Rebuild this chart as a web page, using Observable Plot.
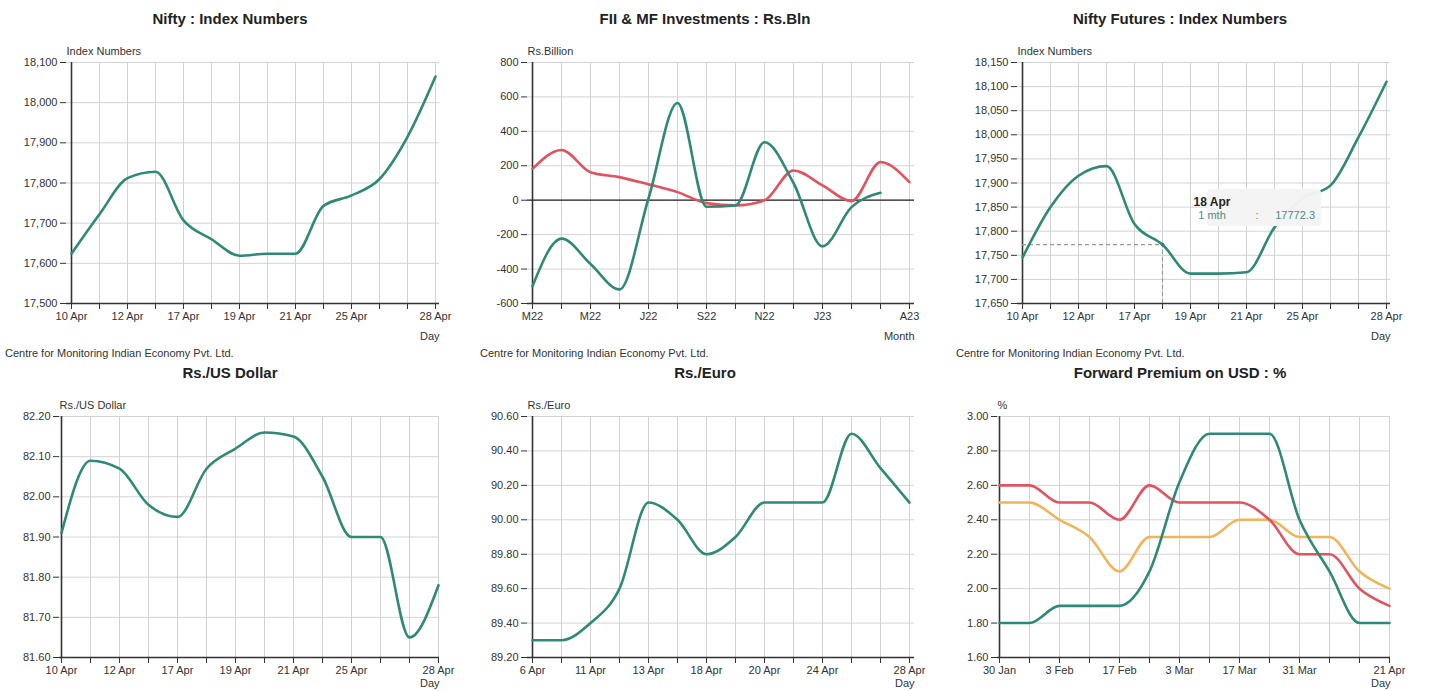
<!DOCTYPE html>
<html>
<head>
<meta charset="utf-8">
<script src="https://cdn.jsdelivr.net/npm/d3@7"></script>
<script src="https://cdn.jsdelivr.net/npm/@observablehq/plot@0.6"></script>
<style>
  body { margin: 0; background: #fff; font-family: Arial, "Liberation Sans", sans-serif; }
  #root { position: relative; width: 1449px; height: 691px; overflow: hidden; background: #fff; }
  .title { position: absolute; width: 460px; text-align: center; font-weight: bold; font-size: 15px; line-height: 18px; color: #222; }
  .src { position: absolute; font-size: 11px; line-height: 14px; color: #333; white-space: nowrap; }
  .panel { position: absolute; }
  .panel svg { overflow: visible; }
</style>
</head>
<body>
<div id="root"></div>
<script>
// ---------- DATA ----------
const aprDays = ["10 Apr","11 Apr","12 Apr","13 Apr","17 Apr","18 Apr","19 Apr","20 Apr","21 Apr","24 Apr","25 Apr","26 Apr","27 Apr","28 Apr"];
const aprDayTicks = ["10 Apr","","12 Apr","","17 Apr","","19 Apr","","21 Apr","","25 Apr","","","28 Apr"];

const niftyValues = [17624, 17722, 17812, 17828, 17707, 17660, 17619, 17624, 17624, 17743, 17769, 17810, 17915, 18065];

const fiiMonths = ["Mar22","Apr22","May22","Jun22","Jul22","Aug22","Sep22","Oct22","Nov22","Dec22","Jan23","Feb23","Mar23","Apr23"];
const fiiMonthTicks = ["M22","","M22","","J22","","S22","","N22","","J23","","","A23"];
const fiiValues = [-500, -223, -370, -518, 10, 565, -38, -30, 337, 100, -268, -40, 43, null];
const mfValues  = [182, 292, 163, 134, 92, 47, -17, -30, -1, 173, 86, -5, 221, 105];

const futuresValues = [17745, 17850, 17915, 17935, 17815, 17772.3, 17712, 17712, 17715, 17808, 17868, 17895, 17995, 18110];
const tipDate = "18 Apr";
const tipSeries = "1 mth";
const tipValue = 17772.3;

const usdValues = [81.91, 82.09, 82.07, 81.98, 81.95, 82.07, 82.12, 82.16, 82.15, 82.05, 81.90, 81.90, 81.65, 81.78];

const euroDays = ["6 Apr","10 Apr","11 Apr","12 Apr","13 Apr","17 Apr","18 Apr","19 Apr","20 Apr","21 Apr","24 Apr","25 Apr","26 Apr","28 Apr"];
const euroDayTicks = ["6 Apr","","11 Apr","","13 Apr","","18 Apr","","20 Apr","","24 Apr","","","28 Apr"];
const euroValues = [89.30, 89.30, 89.40, 89.60, 90.10, 90.00, 89.80, 89.90, 90.10, 90.10, 90.10, 90.50, 90.30, 90.10];

const fwdDays = ["30 Jan","27 Jan b","3 Feb","10 Feb","17 Feb","24 Feb","3 Mar","10 Mar","17 Mar","24 Mar","31 Mar","7 Apr","14 Apr","21 Apr"];
const fwdDayTicks = ["30 Jan","","3 Feb","","17 Feb","","3 Mar","","17 Mar","","31 Mar","","","21 Apr"];
const fwd1m = [1.80, 1.80, 1.90, 1.90, 1.90, 2.10, 2.62, 2.90, 2.90, 2.90, 2.40, 2.10, 1.80, 1.80];
const fwd3m = [2.60, 2.60, 2.50, 2.50, 2.40, 2.60, 2.50, 2.50, 2.50, 2.40, 2.20, 2.20, 2.00, 1.90];
const fwd6m = [2.50, 2.50, 2.40, 2.30, 2.10, 2.30, 2.30, 2.30, 2.40, 2.40, 2.30, 2.30, 2.10, 2.00];

// ---------- STYLE ----------
const TEAL = "#2e8a76", RED = "#e0535f", ORANGE = "#f0b45a";
const FONT = "Arial, 'Liberation Sans', sans-serif";
const root = document.getElementById("root");

function addDiv(cls, text, left, top) {
  const d = document.createElement("div");
  d.className = cls; d.textContent = text;
  d.style.left = left + "px"; d.style.top = top + "px";
  root.appendChild(d);
}

function panel(cfg) {
  const { cats, ticks, series, yDomain, yTicks, yFormat, yLabel, xLabel,
          left, top, width, height, mL, mR, mT, mB, zero, extra, xLabelDy = 33 } = cfg;
  const tickMap = new Map(cats.map((c, i) => [c, ticks[i]]));
  const lines = series.map(s => {
    const data = [];
    s.values.forEach((v, i) => { if (v != null) data.push({ x: cats[i], y: v }); });
    return Plot.line(data, { x: "x", y: "y", stroke: s.color, strokeWidth: 2.6, curve: "monotone-x" });
  });
  const plot = Plot.plot({
    width, height,
    marginLeft: mL, marginRight: mR, marginTop: mT, marginBottom: mB,
    style: { fontFamily: FONT, fontSize: "11px", color: "#333", background: "transparent", overflow: "visible" },
    x: { type: "point", domain: cats, padding: 0, axis: null },
    y: { domain: yDomain, axis: null },
    marks: [
      Plot.gridX(cats, { stroke: "#d3d3d3", strokeOpacity: 1 }),
      Plot.gridY(yTicks, { stroke: "#d3d3d3", strokeOpacity: 1 }),
      zero ? Plot.ruleY([0], { stroke: "#222", strokeWidth: 1.2 }) : null,
      Plot.axisY(yTicks, { tickSize: 6, tickPadding: 3, tickFormat: yFormat, color: "#333", fontSize: 11, label: null }),
      Plot.axisX(cats, { tickSize: 6, tickPadding: 3, tickFormat: d => tickMap.get(d), color: "#333", fontSize: 11, label: null }),
      Plot.ruleX([cats[0]], { stroke: "#333", strokeWidth: 1.6 }),
      Plot.ruleY([yDomain[0]], { stroke: "#333", strokeWidth: 1.6 }),
      ...(extra ? extra.pre : []),
      ...lines,
      ...(extra ? extra.post : []),
      Plot.text([yLabel], { text: d => d, frameAnchor: "top-left", textAnchor: "start", lineAnchor: "middle", dy: -11, fill: "#333", fontSize: 11 }),
      Plot.text([xLabel], { text: d => d, frameAnchor: "bottom-right", textAnchor: "end", lineAnchor: "middle", dy: xLabelDy, fill: "#333", fontSize: 11 })
    ]
  });
  const holder = document.createElement("div");
  holder.className = "panel";
  holder.style.left = left + "px"; holder.style.top = top + "px";
  holder.appendChild(plot);
  root.appendChild(holder);
}

const comma = d3.format(",");
const f2 = d3.format(".2f");

// Titles & sources
addDiv("title", "Nifty : Index Numbers", 0, 10);
addDiv("title", "FII & MF Investments : Rs.Bln", 475, 10);
addDiv("title", "Nifty Futures : Index Numbers", 950, 10);
addDiv("src", "Centre for Monitoring Indian Economy Pvt. Ltd.", 5, 346);
addDiv("src", "Centre for Monitoring Indian Economy Pvt. Ltd.", 480, 346);
addDiv("src", "Centre for Monitoring Indian Economy Pvt. Ltd.", 956, 346);
addDiv("title", "Rs./US Dollar", 0, 364);
addDiv("title", "Rs./Euro", 475, 364);
addDiv("title", "Forward Premium on USD : %", 950, 364);

// Panel 1
panel({ cats: aprDays, ticks: aprDayTicks, series: [{ values: niftyValues, color: TEAL }],
  yDomain: [17500, 18100], yTicks: d3.range(17500, 18101, 100), yFormat: comma,
  yLabel: "Index Numbers", xLabel: "Day",
  left: 0, top: 40, width: 475, height: 305, mL: 66, mR: 36, mT: 22, mB: 42 });

// Panel 2
panel({ cats: fiiMonths, ticks: fiiMonthTicks,
  series: [{ values: mfValues, color: RED }, { values: fiiValues, color: TEAL }],
  yDomain: [-600, 800], yTicks: d3.range(-600, 801, 200), yFormat: d => String(d),
  yLabel: "Rs.Billion", xLabel: "Month", zero: true,
  left: 475, top: 40, width: 475, height: 305, mL: 52, mR: 36, mT: 22, mB: 42 });

// Panel 3 with tooltip
const tipMarks = {
  pre: [
    Plot.ruleY([tipValue], { y: d => d, x1: () => aprDays[0], x2: () => tipDate, stroke: "#999", strokeDasharray: "4,3", strokeWidth: 1.2 }),
    Plot.ruleX([tipDate], { x: d => d, y1: () => 17650, y2: () => tipValue, stroke: "#999", strokeDasharray: "4,3", strokeWidth: 1.2 })
  ],
  post: [
    Plot.dot([tipValue], { x: () => tipDate, y: d => d, r: 1.8, fill: "#3a6fc0" }),
    (index, scales) => {
      const px = scales.x(tipDate), py = scales.y(tipValue);
      const g = d3.create("svg:g").attr("font-family", FONT);
      g.append("rect").attr("x", px + 45).attr("y", py - 55).attr("width", 114).attr("height", 37)
        .attr("rx", 4).attr("fill", "#f4f4f4").attr("fill-opacity", 0.97);
      g.append("text").attr("x", px + 50).attr("y", py - 38).attr("font-size", 12).attr("font-weight", "bold")
        .attr("fill", "#222").text(tipDate);
      g.append("text").attr("x", px + 50).attr("y", py - 25).attr("font-size", 11).attr("fill", "#4c8d80")
        .text(tipSeries);
      g.append("text").attr("x", px + 95).attr("y", py - 25).attr("font-size", 11).attr("fill", "#4c8d80").text(":");
      g.append("text").attr("x", px + 153).attr("y", py - 25).attr("font-size", 11).attr("text-anchor", "end")
        .attr("fill", "#4c8d80").text(String(tipValue));
      return g.node();
    }
  ]
};
panel({ cats: aprDays, ticks: aprDayTicks, series: [{ values: futuresValues, color: TEAL }],
  yDomain: [17650, 18150], yTicks: d3.range(17650, 18151, 50), yFormat: comma,
  yLabel: "Index Numbers", xLabel: "Day", extra: tipMarks,
  left: 950, top: 40, width: 475, height: 305, mL: 67, mR: 35, mT: 22, mB: 42 });

// Panel 4
panel({ cats: aprDays, ticks: aprDayTicks, series: [{ values: usdValues, color: TEAL }],
  yDomain: [81.6, 82.2], yTicks: [81.6, 81.7, 81.8, 81.9, 82.0, 82.1, 82.2], yFormat: f2,
  yLabel: "Rs./US Dollar", xLabel: "Day", xLabelDy: 26,
  left: 0, top: 395, width: 475, height: 296, mL: 59, mR: 36, mT: 21, mB: 34 });

// Panel 5
panel({ cats: euroDays, ticks: euroDayTicks, series: [{ values: euroValues, color: TEAL }],
  yDomain: [89.2, 90.6], yTicks: [89.2, 89.4, 89.6, 89.8, 90.0, 90.2, 90.4, 90.6], yFormat: f2,
  yLabel: "Rs./Euro", xLabel: "Day", xLabelDy: 26,
  left: 475, top: 395, width: 475, height: 296, mL: 52, mR: 36, mT: 21, mB: 34 });

// Panel 6
panel({ cats: fwdDays, ticks: fwdDayTicks,
  series: [{ values: fwd6m, color: ORANGE }, { values: fwd3m, color: RED }, { values: fwd1m, color: TEAL }],
  yDomain: [1.6, 3.0], yTicks: [1.6, 1.8, 2.0, 2.2, 2.4, 2.6, 2.8, 3.0], yFormat: f2,
  yLabel: "%", xLabel: "Day", xLabelDy: 26,
  left: 950, top: 395, width: 475, height: 296, mL: 47, mR: 35, mT: 21, mB: 34 });
</script>
</body>
</html>
